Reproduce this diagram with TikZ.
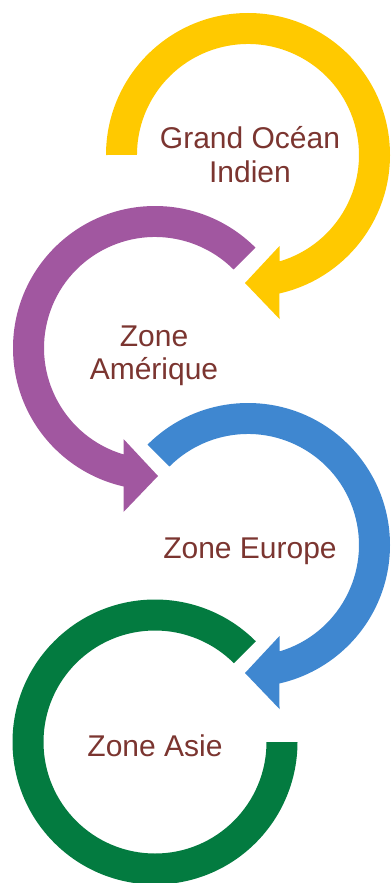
\documentclass[tikz,border=0pt]{standalone}
\usepackage{fontspec}
\setmainfont{Liberation Sans}
\definecolor{yellowc}{HTML}{FFC900}
\definecolor{purplec}{HTML}{A157A0}
\definecolor{bluec}{HTML}{3F87D0}
\definecolor{greenc}{HTML}{037B40}
\definecolor{txtc}{HTML}{7B3530}
\tikzset{
  lbl/.style={text=txtc, font=\fontsize{30}{34}\selectfont, inner sep=0pt, anchor=base},
}
\begin{document}
\begin{tikzpicture}[x=1pt,y=-1pt]
\useasboundingbox (0,0) rectangle (391,883);
% yellow arrow (clockwise)
\begin{scope}[shift={(248,155)}]
\fill[yellowc] (180:142) arc[start angle=180,end angle=437.2,radius=142]
  -- (31.5,164) -- (-3,128) -- (31.5,91) -- (31.5,106.4)
  arc[start angle=433.5,end angle=180,radius=111] -- cycle;
\end{scope}
% purple arrow (counterclockwise)
\begin{scope}[shift={(155,348)}]
\fill[purplec] (315:142) arc[start angle=315,end angle=102.8,radius=142]
  -- (-31.5,164) -- (3,128) -- (-31.5,91) -- (-31.5,106.4)
  arc[start angle=106.5,end angle=315,radius=111] -- cycle;
\end{scope}
% blue arrow (clockwise)
\begin{scope}[shift={(248,545)}]
\fill[bluec] (225:142) arc[start angle=225,end angle=437.2,radius=142]
  -- (31.5,164) -- (-3,128) -- (31.5,91) -- (31.5,106.4)
  arc[start angle=433.5,end angle=225,radius=111] -- cycle;
\end{scope}
% green ring (no head)
\begin{scope}[shift={(155,742)}]
\fill[greenc] (-45:142.5) arc[start angle=-45,end angle=-360,radius=142.5]
  -- (111.5,0) arc[start angle=0,end angle=315,radius=111.5] -- cycle;
\end{scope}
% labels
\node[lbl] (t1a) at (250,148) {Grand Océan};
\node[lbl] (t1b) at (250,182) {Indien};
\node[lbl] (t2a) at (154,346) {Zone};
\node[lbl] (t2b) at (154,379) {Amérique};
\node[lbl] (t3) at (250,558) {Zone Europe};
\node[lbl] (t4) at (155,756) {Zone Asie};
\end{tikzpicture}
\end{document}
